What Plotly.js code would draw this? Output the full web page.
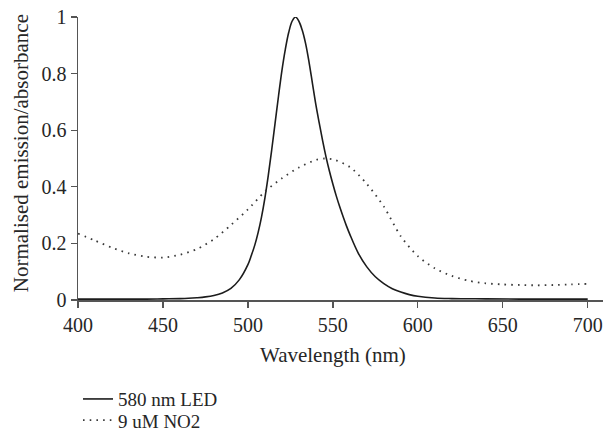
<!DOCTYPE html>
<html>
<head>
<meta charset="utf-8">
<script src="https://cdn.plot.ly/plotly-3.0.1.min.js"></script>
<style>
  html, body { margin: 0; padding: 0; background: #fff; }
  #chart { width: 606px; height: 431px; }
</style>
</head>
<body>
<div id="chart"></div>
<script>
// Emission spectrum of the 580 nm LED (normalised)
const ledWavelength = [400, 420, 440, 450, 460, 465, 470, 475, 480, 485, 490, 495, 500, 502, 504, 506, 508, 510, 512, 514, 516, 518, 520, 522, 524, 526, 528, 530, 532, 534, 536, 538, 540, 542, 544, 546, 548, 550, 552, 554, 556, 558, 560, 565, 570, 575, 580, 585, 590, 595, 600, 610, 620, 640, 670, 700];
const ledEmission   = [0.003, 0.003, 0.003, 0.004, 0.005, 0.006, 0.008, 0.011, 0.016, 0.025, 0.041, 0.072, 0.125, 0.157, 0.193, 0.238, 0.293, 0.36, 0.44, 0.53, 0.625, 0.72, 0.81, 0.885, 0.945, 0.985, 1.0, 0.985, 0.953, 0.905, 0.84, 0.765, 0.69, 0.625, 0.562, 0.505, 0.455, 0.41, 0.368, 0.330, 0.295, 0.262, 0.232, 0.165, 0.117, 0.082, 0.058, 0.040, 0.028, 0.019, 0.013, 0.007, 0.005, 0.004, 0.003, 0.003];

// Absorbance spectrum of 9 uM NO2 (normalised)
const no2Wavelength = [400, 410, 420, 430, 440, 450, 460, 470, 480, 490, 500, 510, 520, 530, 540, 545, 550, 560, 570, 580, 590, 600, 610, 620, 630, 640, 650, 660, 670, 680, 690, 700];
const no2Absorbance = [0.235, 0.21, 0.185, 0.165, 0.153, 0.150, 0.160, 0.180, 0.215, 0.265, 0.32, 0.383, 0.43, 0.468, 0.495, 0.5, 0.497, 0.47, 0.41, 0.33, 0.225, 0.155, 0.112, 0.085, 0.068, 0.059, 0.055, 0.053, 0.052, 0.053, 0.055, 0.057];

const xTicks = [400, 450, 500, 550, 600, 650, 700];
const yTicks = [0, 0.2, 0.4, 0.6, 0.8, 1];
const yTickLabels = ['0', '0.2', '0.4', '0.6', '0.8', '1'];

const serif = 'Liberation Serif, Times New Roman, serif';
const ink = '#262626';
const axisGrey = '#555555';

const traces = [
  {
    x: ledWavelength, y: ledEmission,
    name: '580 nm LED',
    mode: 'lines',
    legend: 'legend',
    line: { color: '#1c1c1c', width: 1.6, shape: 'spline', smoothing: 1 }
  },
  {
    x: no2Wavelength, y: no2Absorbance,
    name: '9 uM NO2',
    mode: 'lines',
    legend: 'legend2',
    line: { color: '#3a3a3a', width: 1.8, dash: '1.6px,5.1px', shape: 'spline', smoothing: 0.8 }
  }
];

const axisCommon = {
  showgrid: false,
  zeroline: false,
  showline: true,
  linecolor: axisGrey,
  linewidth: 1.5,
  ticks: 'outside',
  ticklen: 6,
  tickwidth: 1.3,
  tickcolor: axisGrey,
  tickfont: { family: serif, size: 20, color: ink }
};

// one legend per row so the two entries sit close together
const legendBase = {
  orientation: 'v',
  x: 0.0, xanchor: 'left',
  yanchor: 'top',
  font: { family: serif, size: 19, color: ink },
  bgcolor: 'rgba(0,0,0,0)'
};

const layout = {
  width: 606,
  height: 431,
  margin: { l: 78, r: 3, t: 16.5, b: 131, autoexpand: false },
  paper_bgcolor: '#ffffff',
  plot_bgcolor: '#ffffff',
  font: { family: serif, color: ink },
  xaxis: Object.assign({}, axisCommon, {
    range: [400, 709],
    tickvals: xTicks,
    ticktext: xTicks.map(String)
  }),
  yaxis: Object.assign({}, axisCommon, {
    range: [0, 1],
    tickvals: yTicks,
    ticktext: yTickLabels
  }),
  showlegend: true,
  legend: Object.assign({}, legendBase, { y: -0.283 }),
  legend2: Object.assign({}, legendBase, { y: -0.358 }),
  annotations: [
    {
      text: 'Wavelength (nm)',
      xref: 'x', yref: 'paper',
      x: 550, y: -0.194,
      xanchor: 'center', yanchor: 'middle',
      showarrow: false,
      font: { family: serif, size: 21, color: ink }
    },
    {
      text: 'Normalised emission/absorbance',
      xref: 'paper', yref: 'paper',
      x: -0.107, y: 0.518,
      xanchor: 'center', yanchor: 'middle',
      textangle: -90,
      showarrow: false,
      font: { family: serif, size: 21, color: ink }
    }
  ]
};

Plotly.newPlot('chart', traces, layout, { staticPlot: true, displayModeBar: false });
</script>
</body>
</html>
